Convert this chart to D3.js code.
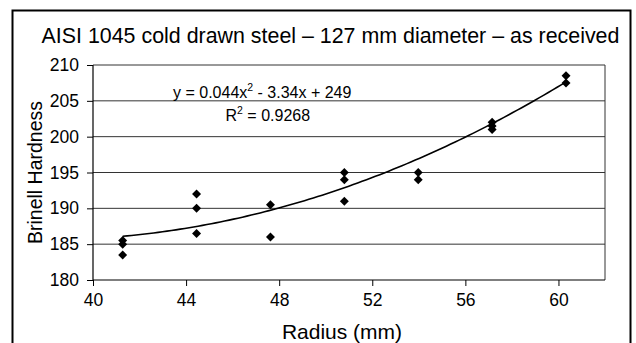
<!DOCTYPE html>
<html>
<head>
<meta charset="utf-8">
<script src="https://cdn.jsdelivr.net/npm/d3@7"></script>
<style>
  html, body { margin: 0; padding: 0; background: #fff; }
  svg { display: block; font-family: "Liberation Sans", Arial, sans-serif; }
</style>
</head>
<body>
<svg id="chart" width="636" height="343"></svg>
<script>
// Measured hardness at each radial position (mm)
const radius = [41.275, 41.275, 41.275, 44.45, 44.45, 44.45, 47.625, 47.625,
                50.8, 50.8, 50.8, 53.975, 53.975, 57.15, 57.15, 57.15, 60.325, 60.325];
const hardness = [185.5, 185, 183.5, 192, 190, 186.5, 190.5, 186,
                  195, 194, 191, 195, 194, 202, 201.5, 201, 208.5, 207.5];

// Quadratic trendline coefficients (a x^2 + b x + c) and fit quality
const trendCoef = [0.044, -3.34, 249];
const rSquared = "0.9268";

const xTicks = [40, 44, 48, 52, 56, 60];
const yTicks = [180, 185, 190, 195, 200, 205, 210];

const svg = d3.select("#chart");
const plot = { left: 93, right: 605, top: 65, bottom: 280 };

const x = d3.scaleLinear().domain([40, 62]).range([plot.left, plot.right]);
const y = d3.scaleLinear().domain([180, 210]).range([plot.bottom, plot.top]);

// Outer chart frame
svg.append("rect")
  .attr("x", 12.5).attr("y", 10.5)
  .attr("width", 618).attr("height", 345)
  .attr("fill", "none").attr("stroke", "#000").attr("stroke-width", 2);

// Title
svg.append("text")
  .attr("x", 330.5).attr("y", 42.5)
  .attr("text-anchor", "middle")
  .attr("font-size", 21.4)
  .text("AISI 1045 cold drawn steel \u2013 127 mm diameter \u2013 as received");

// Horizontal gridlines
svg.append("g")
  .selectAll("line")
  .data(yTicks.slice(1))
  .join("line")
  .attr("x1", plot.left).attr("x2", plot.right)
  .attr("y1", d => y(d)).attr("y2", d => y(d))
  .attr("stroke", "#333").attr("stroke-width", 1);

// Plot area border (right side)
svg.append("line")
  .attr("x1", plot.right).attr("x2", plot.right)
  .attr("y1", plot.top).attr("y2", plot.bottom)
  .attr("stroke", "#333").attr("stroke-width", 1);

// Axes
const xAxis = d3.axisBottom(x).tickValues(xTicks).tickSize(6).tickSizeOuter(0).tickPadding(8);
const yAxis = d3.axisLeft(y).tickValues(yTicks).tickSize(6).tickSizeOuter(0).tickPadding(8);

const gx = svg.append("g").attr("transform", `translate(0,${plot.bottom})`).call(xAxis);
const gy = svg.append("g").attr("transform", `translate(${plot.left},0)`).call(yAxis);

[gx, gy].forEach(g => {
  g.select(".domain").attr("stroke", "#000").attr("stroke-width", 1.2);
  g.selectAll(".tick line").attr("stroke", "#000");
  g.selectAll(".tick text")
    .attr("font-family", "'Liberation Sans', Arial, sans-serif")
    .attr("font-size", 17.5).attr("fill", "#000");
});
gx.select(".domain").attr("d", `M${plot.left},0H${plot.right}`);
gy.select(".domain").attr("d", `M0,${plot.bottom}V${plot.top}`);

// Axis titles
svg.append("text")
  .attr("x", 342).attr("y", 339)
  .attr("text-anchor", "middle")
  .attr("font-size", 21)
  .text("Radius (mm)");

svg.append("text")
  .attr("transform", `translate(42,${(plot.top + plot.bottom) / 2}) rotate(-90)`)
  .attr("text-anchor", "middle")
  .attr("font-size", 19.5)
  .text("Brinell Hardness");

// Trendline drawn from the stated polynomial across the measured radius range
const [a, b, c] = trendCoef;
const xMin = d3.min(radius), xMax = d3.max(radius);
const curvePts = d3.range(0, 101).map(i => {
  const r = xMin + (xMax - xMin) * i / 100;
  return [r, a * r * r + b * r + c];
});
svg.append("path")
  .datum(curvePts)
  .attr("fill", "none").attr("stroke", "#000").attr("stroke-width", 1.6)
  .attr("d", d3.line().x(d => x(d[0])).y(d => y(d[1])));

// Data markers (diamonds)
const diamond = d3.symbol().type(d3.symbolSquare).size(40);
svg.append("g")
  .selectAll("path")
  .data(radius.map((r, i) => [r, hardness[i]]))
  .join("path")
  .attr("d", diamond)
  .attr("transform", d => `translate(${x(d[0])},${y(d[1])}) rotate(45)`)
  .attr("fill", "#000");

// Equation and R² annotation
const eq = svg.append("text").attr("x", 173).attr("y", 97.5).attr("font-size", 16);
eq.append("tspan").text(`y = ${a}x`);
eq.append("tspan").attr("font-size", 10.5).attr("dy", -7).text("2");
eq.append("tspan").attr("dy", 7).text(` - ${Math.abs(b)}x + ${c}`);

const r2 = svg.append("text").attr("x", 225.5).attr("y", 120.5).attr("font-size", 16);
r2.append("tspan").text("R");
r2.append("tspan").attr("font-size", 10.5).attr("dy", -7).text("2");
r2.append("tspan").attr("dy", 7).text(` = ${rSquared}`);
</script>
</body>
</html>
